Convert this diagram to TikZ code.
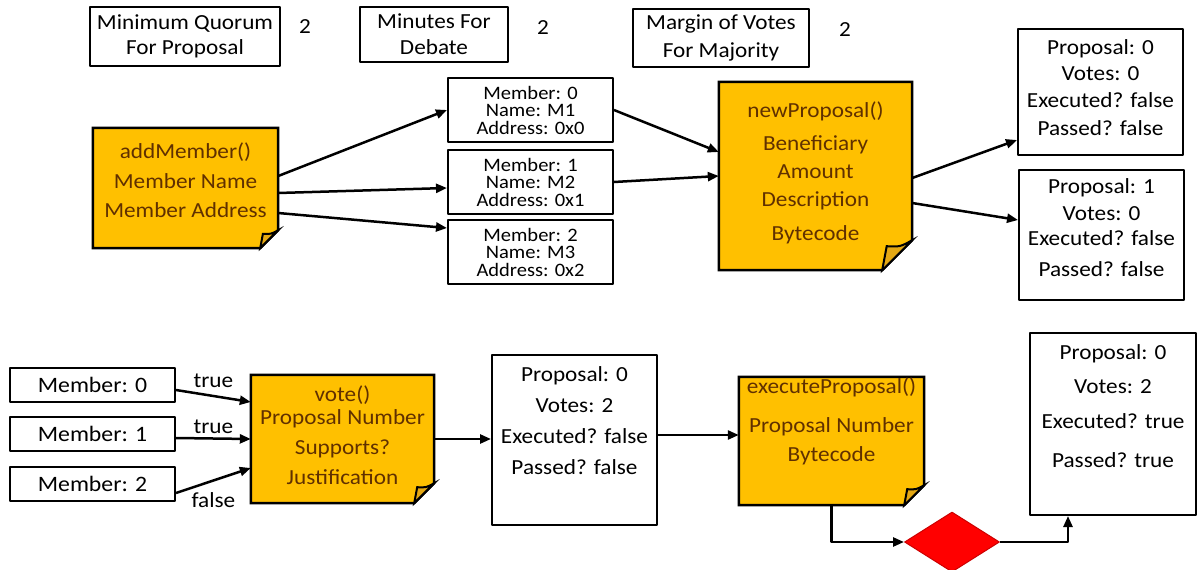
\documentclass[tikz,border=0pt]{standalone}
\usepackage{fontspec}
\setmainfont{Carlito}[FakeStretch=1.08]
\usetikzlibrary{arrows.meta,shapes.geometric,backgrounds}
\definecolor{notegold}{RGB}{255,192,0}
\definecolor{notefold}{RGB}{228,168,20}
\definecolor{notetext}{RGB}{96,48,0}
\definecolor{flagred}{RGB}{255,0,0}
% sticky note drawn behind a named node: #1 node, #2 fold size
\newcommand{\stickynote}[2]{%
 \draw[line width=2.5pt,fill=notegold] (#1.north west)--(#1.north east)
  --([shift={(0,-#2)}]#1.south east)--([shift={(-#2,0)}]#1.south east)
  --(#1.south west)--cycle;
 \draw[line width=2pt,fill=notefold] ([shift={(0,-#2)}]#1.south east)
  .. controls ([shift={(-0.4*#2,-0.78*#2)}]#1.south east) .. ([shift={(-0.85*#2,-0.8*#2)}]#1.south east)
  --([shift={(-#2,0)}]#1.south east)--cycle;}

\begin{document}
\begin{tikzpicture}[x=1pt,y=-1pt,line join=round,
 >={Triangle[length=11pt,width=9pt]},
 font=\fontsize{21.5}{25}\selectfont,
 leading/.style={font=\fontsize{21.5}{#1}\selectfont},
 box/.style={draw,line width=2pt,inner sep=0pt,align=center},
 member/.style={box,minimum width=165,minimum height=64,font=\fontsize{19}{17.5}\selectfont},
 voter/.style={box,minimum width=165,minimum height=34,font=\fontsize{22}{25}\selectfont},
 note/.style={inner sep=0pt,align=center,text=notetext},
 boxtext/.style={anchor=north,inner sep=0pt,align=center},
 arr/.style={->,line width=2.5pt},
 decision/.style={diamond,fill=flagred,draw=flagred!80!black,line width=1pt,
  minimum width=95,minimum height=60,inner sep=0pt}]
\useasboundingbox (0,0) rectangle (1199,570);

% settings
\node[box,minimum width=190,minimum height=59] (quorum) at (185,36.5) {Minimum Quorum\\For Proposal};
\node (quorumval) at (305,27) {2};
\node[box,minimum width=148,minimum height=55,leading=26] (debate) at (434,34.5) {Minutes For\\Debate};
\node (debateval) at (543,28) {2};
\node[box,minimum width=176,minimum height=58,leading=28] (margin) at (721,38) {Margin of Votes\\For Majority};
\node (marginval) at (845,30) {2};

% members and proposals
\node[note,minimum width=185,minimum height=120] (addM) at (185.5,188) {};
\node[boxtext,text=notetext,leading=29.5] (addMtext) at ([yshift=-15]addM.north)
 {addMember()\\Member Name\\Member Address};
\node[member] (m0) at (530.5,110) {Member: 0\\Name: M1\\Address: 0x0};
\node[member] (m1) at (530.5,182) {Member: 1\\Name: M2\\Address: 0x1};
\node[member] (m2) at (530.5,252) {Member: 2\\Name: M3\\Address: 0x2};
\node[note,minimum width=193,minimum height=188] (newP) at (815.5,176) {};
\node[boxtext,text=notetext,leading=28] (newPtext) at ([yshift=-20]newP.north)
 {newProposal()\\[5pt]Beneficiary\\Amount\\Description\\[6pt]Bytecode};
\node[box,minimum width=165,minimum height=126] (propA) at (1100.5,92) {};
\node[boxtext,leading=26.5] (propAtext) at ([yshift=-11]propA.north)
 {Proposal: 0\\Votes: 0\\Executed? false\\[2pt]Passed? false};
\node[box,minimum width=165,minimum height=130] (propB) at (1101.5,235) {};
\node[boxtext,leading=27] (propBtext) at ([yshift=-9]propB.north)
 {Proposal: 1\\Votes: 0\\[-2pt]Executed? false\\[4pt]Passed? false};

% voting and execution
\node[voter] (mem0) at (92.5,385) {Member: 0};
\node[voter] (mem1) at (92.5,434) {Member: 1};
\node[voter] (mem2) at (92.5,484) {Member: 2};
\node[note,minimum width=183,minimum height=128] (vote) at (342.5,439) {};
\node[boxtext,text=notetext,leading=23] (votetext) at ([yshift=-11]vote.north)
 {vote()\\Proposal Number\\[7pt]Supports?\\[7pt]Justification};
\node[box,minimum width=165,minimum height=170] (propC) at (574.5,440) {};
\node[boxtext,leading=31] (propCtext) at ([yshift=-12]propC.north)
 {Proposal: 0\\Votes: 2\\Executed? false\\Passed? false};
\node[note,minimum width=185,minimum height=128] (execP) at (831.5,441) {};
\node[boxtext,text=notetext,leading=29] (execPtext) at ([yshift=-1]execP.north)
 {executeProposal()\\[10pt]Proposal Number\\Bytecode};
\node[decision] (check) at (952,542) {};
\node[box,minimum width=166,minimum height=182] (propD) at (1113,424) {};
\node[boxtext,leading=34] (propDtext) at ([yshift=-12]propD.north)
 {Proposal: 0\\Votes: 2\\[1pt]Executed? true\\[5pt]Passed? true};

\begin{scope}[on background layer]
 \stickynote{addM}{18}
 \stickynote{newP}{30}
 \stickynote{vote}{20}
 \stickynote{execP}{20}
\end{scope}

\draw[arr] ([yshift=12]addM.east) -- (m0.west);
\draw[arr] ([yshift=-5]addM.east) -- ([yshift=-6]m1.west);
\draw[arr] ([yshift=-25]addM.east) -- ([yshift=24]m2.west);
\draw[arr] (m0.east) -- ([yshift=24]newP.west);
\draw[arr] (m1.east) -- (newP.west);
\draw[arr] ([yshift=-2]newP.east) -- ([yshift=-48]propA.west);
\draw[arr] ([yshift=-27]newP.east) -- ([yshift=15]propB.west);

\draw[arr] ([yshift=-5]mem0.east) -- ([yshift=37]vote.west) node[midway,above=4pt] (vote0) {true};
\draw[arr] ([yshift=-4]mem1.east) -- (vote.west) node[midway,above] (vote1) {true};
\draw[arr] ([yshift=-9]mem2.east) -- ([yshift=-29]vote.west) node[midway,below=7pt] (vote2) {false};
\draw[arr] (vote.east) -- (vote.east -| propC.west);
\draw[arr] ([yshift=5]propC.east) -- ([yshift=5]propC.east -| execP.west);
\draw[arr] (execP.south) |- (check.west);
\draw[arr] (check.east) -| ([xshift=-45]propD.south);
\end{tikzpicture}
\end{document}
